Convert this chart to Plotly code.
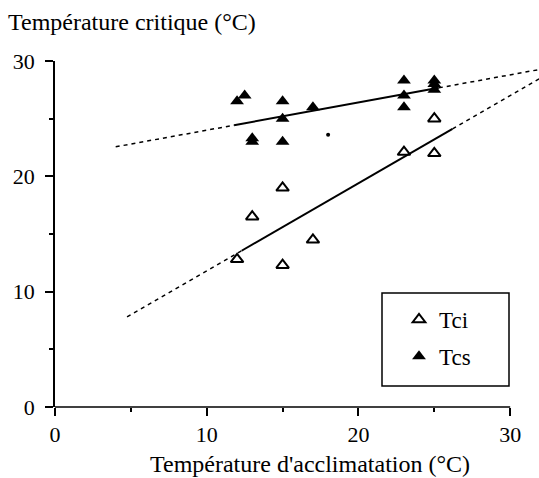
import plotly.graph_objects as go

# Data
tci_x = [12, 13, 15, 15, 17, 23, 25, 25]
tci_y = [12.8, 16.5, 19.0, 12.3, 14.5, 22.1, 22.0, 25.0]

tcs_x = [12, 12.5, 13, 13, 15, 15, 15, 17, 23, 23, 23, 25, 25, 25]
tcs_y = [26.5, 27.0, 23.3, 23.0, 26.5, 25.0, 23.0, 26.0, 28.3, 27.0, 26.0, 28.3, 28.0, 27.5]

# stray dot in the original figure
dot_x = [18]
dot_y = [23.6]

# regression fits: slope, intercept, solid extent, dashed extent
tcs_fit = dict(a=0.24, b=21.6, solid=[11.8, 25.3], dashed=[4.0, 32.0])
tci_fit = dict(a=0.76, b=4.2, solid=[12.3, 26.2], dashed=[4.75, 32.0])

x_ticks = [0, 10, 20, 30]
y_ticks = [0, 10, 20, 30]
minor_ticks = [5, 15, 25]

FONT = "'Liberation Serif', 'Times New Roman', 'DejaVu Serif', serif"
W, H = 539, 478
L, R, T, B = 55, 0, 61, 71

fig = go.Figure()


def fit_line(fit, ext, dash, width):
    xs = list(ext)
    ys = [fit["a"] * x + fit["b"] for x in xs]
    fig.add_trace(go.Scatter(x=xs, y=ys, mode="lines", showlegend=False,
                             line=dict(color="black", width=width, dash=dash),
                             hoverinfo="skip"))


for f in (tcs_fit, tci_fit):
    fit_line(f, [f["dashed"][0], f["solid"][0]], "4px,4px", 1.5)
    fit_line(f, [f["solid"][1], f["dashed"][1]], "4px,4px", 1.5)
    fit_line(f, f["solid"], "solid", 2)

fig.add_trace(go.Scatter(x=tci_x, y=tci_y, mode="markers", name="Tci",
                         legendgroup="a",
                         marker=dict(symbol="triangle-up-open", size=11,
                                     color="black", line=dict(width=2, color="black"))))
fig.add_trace(go.Scatter(x=tcs_x, y=tcs_y, mode="markers", name="Tcs",
                         legendgroup="b",
                         marker=dict(symbol="triangle-up", size=12, color="black",
                                     line=dict(width=0))))
fig.add_trace(go.Scatter(x=dot_x, y=dot_y, mode="markers", showlegend=False,
                         marker=dict(symbol="circle", size=4, color="black")))

pw = W - L - R
ph = H - T - B


def px(x):
    return (x - L) / pw


def py(y):
    return (H - B - y) / ph


fig.update_layout(
    width=W, height=H,
    margin=dict(l=L, r=R, t=T, b=B),
    paper_bgcolor="white", plot_bgcolor="white",
    font=dict(family=FONT, size=22, color="black"),
    xaxis=dict(range=[0, 31.9], showgrid=False, zeroline=False, showline=False,
               tickmode="array", tickvals=x_ticks, ticks="outside", ticklen=8,
               tickwidth=1.5, tickcolor="black",
               minor=dict(tickmode="array", tickvals=minor_ticks, ticks="outside",
                          ticklen=4, tickcolor="black", tickwidth=1.5),
               tickfont=dict(family=FONT, size=22)),
    yaxis=dict(range=[0, 30], showgrid=False, zeroline=False, showline=True,
               linecolor="black", linewidth=1.5,
               tickmode="array", tickvals=y_ticks, ticks="outside", ticklen=8,
               tickwidth=1.5, tickcolor="black",
               minor=dict(tickmode="array", tickvals=minor_ticks, ticks="outside",
                          ticklen=4, tickcolor="black", tickwidth=1.5),
               tickfont=dict(family=FONT, size=22), ticklabelstandoff=6),
    legend=dict(x=px(399), y=py(298), xanchor="left", yanchor="top",
                bgcolor="rgba(0,0,0,0)", borderwidth=0,
                traceorder="grouped", tracegroupgap=4,
                font=dict(family=FONT, size=23)),
    shapes=[
        dict(type="line", xref="x", yref="paper", x0=0, x1=30, y0=0, y1=0,
             line=dict(color="black", width=1.5)),
        dict(type="rect", xref="paper", yref="paper",
             x0=px(382), x1=px(509), y0=py(386), y1=py(293),
             line=dict(color="black", width=1.5)),
    ],
    annotations=[
        dict(text="Température critique (°C)", xref="paper", yref="paper",
             x=px(6), y=py(22), xanchor="left", yanchor="middle",
             showarrow=False, font=dict(family=FONT, size=24)),
        dict(text="Température d'acclimatation (°C)", xref="paper", yref="paper",
             x=px(310), y=py(464), xanchor="center", yanchor="middle",
             showarrow=False, font=dict(family=FONT, size=24)),
    ],
)

fig.write_html("out.html")
